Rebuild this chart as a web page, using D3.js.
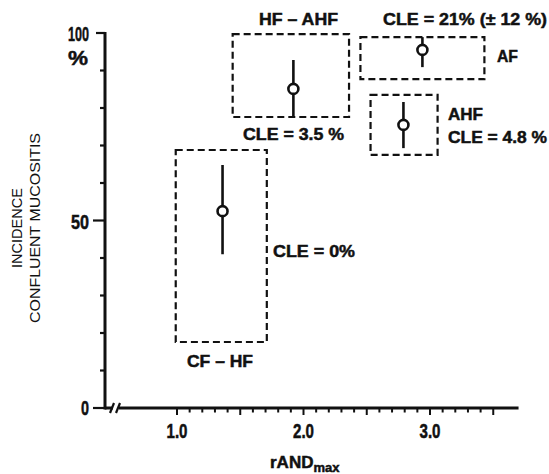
<!DOCTYPE html>
<html><head><meta charset="utf-8">
<script src="https://cdn.jsdelivr.net/npm/d3@7"></script>
<style>
body{margin:0;background:#fff;}
svg{display:block;}
text{font-family:"Liberation Sans",Arial,Helvetica,sans-serif;fill:#111;}
text.heavy{stroke:#111;stroke-width:0.5;}
</style></head>
<body>
<script>
// ---- data ----
const groups = ["CF – HF", "HF – AHF", "AF", "AHF"];
const pointX = [1.36, 1.92, 2.94, 2.79];
const pointY = [52.5, 85.1, 95.5, 75.5];
const errLow = [41.0, 77.6, 90.9, 69.3];
const errHigh = [64.8, 92.8, 98.9, 81.6];
const boxX0 = [0.99, 1.44, 2.45, 2.53];
const boxX1 = [1.71, 2.36, 3.43, 3.06];
const boxY0 = [17.6, 77.6, 87.7, 67.5];
const boxY1 = [68.8, 99.7, 98.9, 83.5];
const cleLabels = ["CLE = 0%", "CLE = 3.5 %", "CLE = 21% (± 12 %)", "CLE = 4.8 %"];
const yTickLabels = ["0", "50", "100"];
const xTickLabels = ["1.0", "2.0", "3.0"];
const yTitle = ["INCIDENCE", "CONFLUENT MUCOSITIS"];

const W = 549, H = 474;
const svg = d3.select("body").append("svg").attr("width", W).attr("height", H);
const x = d3.scaleLinear().domain([1, 3]).range([177, 430]);
const y = d3.scaleLinear().domain([0, 100]).range([408, 33]);
const ax = 105; // y axis position
const ink = "#111";

// Y axis
svg.append("line").attr("x1", ax).attr("x2", ax).attr("y1", y(100) - 1).attr("y2", y(0) + 1.5)
  .attr("stroke", ink).attr("stroke-width", 3);
d3.range(0, 101, 10).forEach(v => {
  const major = v % 50 === 0;
  svg.append("line").attr("x1", ax - (major ? (v === 100 ? 9 : 12) : 5)).attr("x2", ax)
    .attr("y1", y(v)).attr("y2", y(v)).attr("stroke", ink).attr("stroke-width", 2.2);
});
const yt = [0, 50, 100];
yt.forEach((v, i) => {
  const t = svg.append("text").attr("class", "heavy").attr("x", 89).attr("y", y(v) + [7, 8, 8][i]).attr("text-anchor", "end")
    .attr("font-size", 21).attr("font-weight", "bold").text(yTickLabels[i]);
  const len = [8, 18, 21][i];
  t.attr("textLength", len).attr("lengthAdjust", "spacingAndGlyphs");
});
svg.append("text").attr("class", "heavy").attr("x", 68).attr("y", 65).attr("font-size", 21).attr("font-weight", "bold")
  .attr("textLength", 20).attr("lengthAdjust", "spacingAndGlyphs").text("%");

// X axis with break
const ay = y(0);
svg.append("line").attr("x1", ax).attr("x2", 113).attr("y1", ay).attr("y2", ay).attr("stroke", ink).attr("stroke-width", 3);
svg.append("line").attr("x1", 119).attr("x2", x(3.7)).attr("y1", ay).attr("y2", ay).attr("stroke", ink).attr("stroke-width", 3);
[[110, 114], [116, 120]].forEach(([a, b]) => {
  svg.append("line").attr("x1", a).attr("y1", ay + 5).attr("x2", b).attr("y2", ay - 5)
    .attr("stroke", ink).attr("stroke-width", 2.2);
});
d3.range(10, 36).forEach(k => {
  const v = k / 10;
  const major = k % 5 === 0;
  svg.append("line").attr("x1", x(v)).attr("x2", x(v)).attr("y1", ay).attr("y2", ay + (major ? 7 : 4.5))
    .attr("stroke", ink).attr("stroke-width", 2);
});
[1, 2, 3].forEach((v, i) => {
  svg.append("text").attr("class", "heavy").attr("x", x(v)).attr("y", 438).attr("text-anchor", "middle")
    .attr("font-size", 20).attr("font-weight", "bold")
    .attr("textLength", 21).attr("lengthAdjust", "spacingAndGlyphs").text(xTickLabels[i]);
});
// x title
const xt = svg.append("text").attr("class", "heavy").attr("x", 270).attr("y", 468).attr("font-size", 17).attr("font-weight", "bold");
xt.append("tspan").text("rAND");
xt.append("tspan").attr("font-size", 13).attr("dy", 4).text("max");

// y title
yTitle.forEach((s, i) => {
  const cx = [22, 40][i], cy = 228;
  svg.append("text").attr("transform", `translate(${cx},${cy}) rotate(-90)`)
    .attr("text-anchor", "middle").attr("font-size", 15)
    .attr("textLength", [80, 190][i]).attr("lengthAdjust", "spacingAndGlyphs").text(s);
});

// dashed boxes
groups.forEach((g, i) => {
  svg.append("rect").attr("x", x(boxX0[i])).attr("y", y(boxY1[i]))
    .attr("width", x(boxX1[i]) - x(boxX0[i])).attr("height", y(boxY0[i]) - y(boxY1[i]))
    .attr("fill", "none").attr("stroke", ink).attr("stroke-width", 2.2).attr("stroke-dasharray", "7,4");
});
// error bars and points
groups.forEach((g, i) => {
  svg.append("line").attr("x1", x(pointX[i])).attr("x2", x(pointX[i]))
    .attr("y1", y(errLow[i])).attr("y2", y(errHigh[i])).attr("stroke", ink).attr("stroke-width", 2.6);
  svg.append("circle").attr("cx", x(pointX[i])).attr("cy", y(pointY[i])).attr("r", 5)
    .attr("fill", "#fff").attr("stroke", ink).attr("stroke-width", 2.6);
});

// annotations
function label(txt, px, py, len) {
  svg.append("text").attr("class", "heavy").attr("x", px).attr("y", py).attr("font-size", 17).attr("font-weight", "bold")
    .attr("textLength", len).attr("lengthAdjust", "spacingAndGlyphs").text(txt);
}
label(groups[1], 259, 25, 79);
label(cleLabels[2], 383, 25, 164);
label(groups[2], 497, 62, 21);
label(groups[3], 448, 120, 35);
label(cleLabels[3], 448, 143, 99);
label(cleLabels[1], 243, 140, 101);
label(cleLabels[0], 273, 257, 82);
label(groups[0], 187, 367, 66);
</script>
</body></html>
